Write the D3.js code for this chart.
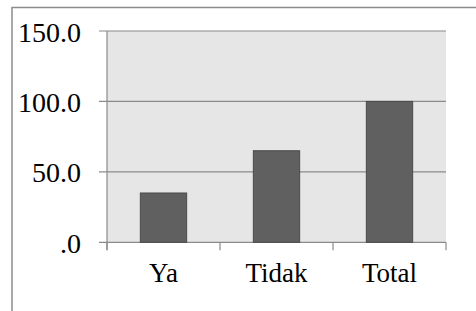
<!DOCTYPE html>
<html>
<head>
<meta charset="utf-8">
<script src="https://cdn.jsdelivr.net/npm/d3@7"></script>
<style>
  html, body { margin: 0; padding: 0; background: #fff; }
  svg { display: block; }
  text { font-family: "Liberation Serif", "Times New Roman", Times, serif; }
</style>
</head>
<body>
<div id="chart"></div>
<script>
const categories = ["Ya", "Tidak", "Total"];
const values = [35, 65, 100];
const yTicks = [0, 50, 100, 150];
const yTickLabels = [".0", "50.0", "100.0", "150.0"];

const W = 476, H = 311;
const plot = { left: 107, right: 446, top: 31, bottom: 242.3 };

const svg = d3.select("#chart").append("svg")
    .attr("width", W)
    .attr("height", H);

// outer chart border (runs off the right and bottom edges)
svg.append("path")
    .attr("d", `M12,${H + 2} L12,7.5 L${W + 2},7.5`)
    .attr("fill", "none")
    .attr("stroke", "#8c8c8c")
    .attr("stroke-width", 1.5);

const x = d3.scaleBand()
    .domain(categories)
    .range([plot.left, plot.right])
    .paddingInner(0.59)
    .paddingOuter(0.295);

const xCat = d3.scaleBand()
    .domain(categories)
    .range([plot.left, plot.right]);

const y = d3.scaleLinear()
    .domain([0, 150])
    .range([plot.bottom, plot.top]);

// plot background
svg.append("rect")
    .attr("x", plot.left)
    .attr("y", plot.top)
    .attr("width", plot.right - plot.left)
    .attr("height", plot.bottom - plot.top)
    .attr("fill", "#e6e6e6");

// gridlines + ticks
svg.append("g")
    .selectAll("line")
    .data(yTicks)
    .enter().append("line")
    .attr("x1", plot.left - 8)
    .attr("x2", plot.right)
    .attr("y1", d => y(d))
    .attr("y2", d => y(d))
    .attr("stroke", "#8a8a8a")
    .attr("stroke-width", 1.2);

// y axis line
svg.append("line")
    .attr("x1", plot.left).attr("x2", plot.left)
    .attr("y1", plot.top).attr("y2", plot.bottom + 8)
    .attr("stroke", "#8a8a8a")
    .attr("stroke-width", 1.2);

// x category ticks
const xTickPos = categories.map(c => xCat(c)).concat([plot.right]);
svg.append("g")
    .selectAll("line")
    .data(xTickPos)
    .enter().append("line")
    .attr("x1", d => d).attr("x2", d => d)
    .attr("y1", plot.bottom)
    .attr("y2", plot.bottom + 8)
    .attr("stroke", "#8a8a8a")
    .attr("stroke-width", 1.2);

// bars
svg.selectAll(".bar")
    .data(values)
    .enter().append("rect")
    .attr("class", "bar")
    .attr("x", (d, i) => x(categories[i]))
    .attr("y", d => y(d))
    .attr("width", x.bandwidth())
    .attr("height", d => y(0) - y(d))
    .attr("fill", "#606060")
    .attr("stroke", "#4a4a4a")
    .attr("stroke-width", 1);

// y labels
svg.append("g")
    .selectAll("text")
    .data(yTicks)
    .enter().append("text")
    .attr("x", 81)
    .attr("y", d => y(d) + 10.5)
    .attr("text-anchor", "end")
    .attr("font-size", 28)
    .attr("fill", "#000")
    .text((d, i) => yTickLabels[i]);

// x labels
svg.append("g")
    .selectAll("text")
    .data(categories)
    .enter().append("text")
    .attr("x", d => xCat(d) + xCat.bandwidth() / 2)
    .attr("y", 282)
    .attr("text-anchor", "middle")
    .attr("font-size", 27)
    .attr("fill", "#000")
    .text(d => d);
</script>
</body>
</html>
